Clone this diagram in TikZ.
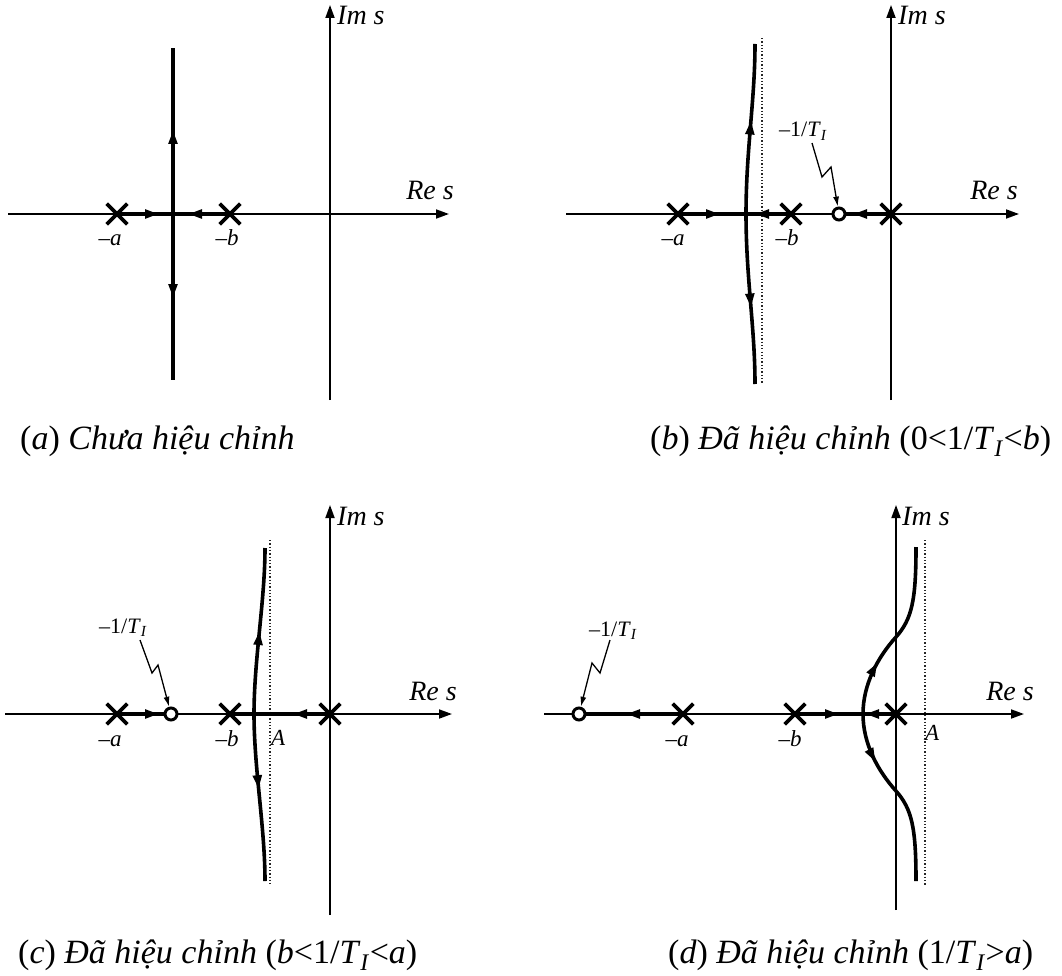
\documentclass[tikz,border=0pt]{standalone}
\usepackage{fontspec}
\setmainfont{Liberation Serif}
\usetikzlibrary{arrows.meta,decorations.markings,shapes.misc}

\tikzset{
  axisarrow/.style={line width=1.8pt, -{Triangle[length=13pt,width=9pt]}},
  locus/.style={line width=3.6pt},
  asym/.style={line width=1.3pt, dotted, black!85},
  polemark/.style={cross out, draw, line width=3.6pt, minimum size=17pt, inner sep=0pt},
  zeromark/.style={circle, draw, fill=white, line width=3pt, minimum size=12pt, inner sep=0pt},
  zig/.style={line width=1.3pt, -{Latex[length=10pt,width=6pt]}},
  am/.style={postaction={decorate, decoration={markings,
      mark=at position #1 with {\arrow{Triangle[length=14pt,width=8.5pt]}}}}},
  lbl/.style={font=\fontsize{23}{23}\selectfont\itshape, inner sep=0pt, anchor=base},
  axlbl/.style={font=\fontsize{28}{28}\selectfont\itshape, inner sep=0pt},
  tlbl/.style={font=\fontsize{22}{22}\selectfont, inner sep=0pt, anchor=base west},
  captext/.style={font=\fontsize{34}{34}\selectfont, inner sep=0pt, anchor=base west},
}
\newcommand{\TI}{\textit{T}\textsubscript{\textit{I}}}

\begin{document}
\begin{tikzpicture}[x=1pt,y=-1pt]
\useasboundingbox (0,0) rectangle (1062,976);

%% ---------------- (a) ----------------
\coordinate (axl) at (8,214);   \coordinate (axr) at (449,214);
\coordinate (ayb) at (330,400); \coordinate (ayt) at (330,5);
\draw[axisarrow] (axl) -- (axr);
\draw[axisarrow] (ayb) -- (ayt);
\node[polemark] (apa) at (117,214) {};
\node[polemark] (apb) at (230,214) {};
\coordinate (abrk) at (173,214);
\coordinate (atop) at (173,48);
\coordinate (abot) at (173,380);
\draw[locus, am=42pt] (apa.center) -- (abrk);
\draw[locus, am=42pt] (apb.center) -- (abrk);
\draw[locus, am=84pt] (abrk) -- (atop);
\draw[locus, am=84pt] (abrk) -- (abot);
\node[lbl] (ala) at (110,246) {–a};
\node[lbl] (alb) at (227,246) {–b};
\node[axlbl, anchor=base east] (are) at (454,200) {Re s};
\node[axlbl, anchor=base west] (aim) at (337,25) {Im s};
\node[captext] (acap) at (20,449) {(\textit{a}) \textit{Chưa hiệu chỉnh}};

%% ---------------- (b) ----------------
\coordinate (bxl) at (566,214);  \coordinate (bxr) at (1019,214);
\coordinate (byb) at (891,400);  \coordinate (byt) at (891,5);
\draw[axisarrow] (bxl) -- (bxr);
\draw[axisarrow] (byb) -- (byt);
\coordinate (bbrk) at (746,214);
\coordinate (bpac) at (678,214);
\coordinate (bpbc) at (791,214);
\coordinate (bzc) at (839,214);
\coordinate (boc) at (891,214);
\coordinate (btop) at (755,44);
\coordinate (bbot) at (755,384);
\coordinate (basT) at (762,38); \coordinate (basB) at (762,384);
\draw[asym] (basT) -- (basB);
\draw[locus, am=42pt] (bpac) -- (bbrk);
\draw[locus, am=36pt] (bpbc) -- (bbrk);
\draw[locus, am=38pt] (boc) -- (bzc);
\draw[locus, am=0.55] (bbrk) .. controls (746,150) and (755,100) .. (btop);
\draw[locus, am=0.55] (bbrk) .. controls (746,278) and (755,328) .. (bbot);
\node[polemark] (bpa) at (bpac) {};
\node[polemark] (bpb) at (bpbc) {};
\node[polemark] (bpo) at (boc) {};
\node[zeromark] (bz) at (bzc) {};
\coordinate (bz1) at (812,143); \coordinate (bz2) at (822,177); \coordinate (bz3) at (831,167);
\draw[zig] (bz1) -- (bz2) -- (bz3) -- (bz);
\node[tlbl] (bti) at (779,137) {–1/\TI};
\node[lbl] (bla) at (673,246) {–a};
\node[lbl] (blb) at (787,246) {–b};
\node[axlbl, anchor=base east] (bre) at (1018,200) {Re s};
\node[axlbl, anchor=base west] (bim) at (898,25) {Im s};
\node[captext] (bcap) at (650,449) {(\textit{b}) \textit{Đã hiệu chỉnh} (0<1/\TI<\textit{b})};

%% ---------------- (c) ----------------
\coordinate (cxl) at (5,714);   \coordinate (cxr) at (452,714);
\coordinate (cyb) at (330,915); \coordinate (cyt) at (330,505);
\draw[axisarrow] (cxl) -- (cxr);
\draw[axisarrow] (cyb) -- (cyt);
\coordinate (cbrk) at (254,714);
\coordinate (cpac) at (117,714);
\coordinate (czc) at (171,714);
\coordinate (cpbc) at (230,714);
\coordinate (coc) at (330,714);
\coordinate (ctop) at (265,548);
\coordinate (cbot) at (265,881);
\coordinate (casT) at (270,540); \coordinate (casB) at (270,884);
\draw[asym] (casT) -- (casB);
\draw[locus, am=42pt] (cpac) -- (czc);
\draw[locus, am=37pt] (coc) -- (cpbc);
\draw[locus, am=0.5] (cbrk) .. controls (254,660) and (265,600) .. (ctop);
\draw[locus, am=0.45] (cbrk) .. controls (254,768) and (265,828) .. (cbot);
\node[polemark] (cpa) at (cpac) {};
\node[polemark] (cpb) at (cpbc) {};
\node[polemark] (cpo) at (coc) {};
\node[zeromark] (cz) at (czc) {};
\coordinate (cz1) at (140,640); \coordinate (cz2) at (152,673); \coordinate (cz3) at (158,665);
\draw[zig] (cz1) -- (cz2) -- (cz3) -- (cz);
\node[tlbl] (cti) at (99,633) {–1/\TI};
\node[lbl] (cla) at (110,746) {–a};
\node[lbl] (clb) at (227,746) {–b};
\node[lbl, anchor=base west] (cA) at (271,745) {A};
\node[axlbl, anchor=base east] (cre) at (457,700) {Re s};
\node[axlbl, anchor=base west] (cim) at (337,525) {Im s};
\node[captext] (ccap) at (18,963) {(\textit{c}) \textit{Đã hiệu chỉnh} (\textit{b}<1/\TI<\textit{a})};

%% ---------------- (d) ----------------
\coordinate (dxl) at (544,714);  \coordinate (dxr) at (1024,714);
\coordinate (dyb) at (896,910);  \coordinate (dyt) at (896,505);
\draw[axisarrow] (dxl) -- (dxr);
\draw[axisarrow] (dyb) -- (dyt);
\coordinate (dbrk) at (863,714);
\coordinate (dzc) at (579,714);
\coordinate (dpac) at (683,714);
\coordinate (dpbc) at (795,714);
\coordinate (doc) at (896,714);
\coordinate (dtop) at (916,547);
\coordinate (dbot) at (916,881);
\coordinate (dasT) at (925,540); \coordinate (dasB) at (925,885);
\draw[asym] (dasT) -- (dasB);
\draw[locus, am=57pt] (dpac) -- (dzc);
\draw[locus, am=44pt] (dpbc) -- (dbrk);
\draw[locus, am=31pt] (doc) -- (dbrk);
\draw[locus, am=54pt] (dbrk) .. controls (863,684) and (878,657) .. (896,637)
      .. controls (912,619) and (916,600) .. (dtop);
\draw[locus, am=50pt] (dbrk) .. controls (863,744) and (878,771) .. (896,791)
      .. controls (912,809) and (916,828) .. (dbot);
\node[polemark] (dpa) at (dpac) {};
\node[polemark] (dpb) at (dpbc) {};
\node[polemark] (dpo) at (doc) {};
\node[zeromark] (dz) at (dzc) {};
\coordinate (dz1) at (610,640); \coordinate (dz2) at (600,673); \coordinate (dz3) at (592,663);
\draw[zig] (dz1) -- (dz2) -- (dz3) -- (dz);
\node[tlbl] (dti) at (589,636) {–1/\TI};
\node[lbl] (dla) at (677,746) {–a};
\node[lbl] (dlb) at (790,746) {–b};
\node[lbl, anchor=base west] (dA) at (925,740) {A};
\node[axlbl, anchor=base east] (dre) at (1034,700) {Re s};
\node[axlbl, anchor=base west] (dim) at (902,525) {Im s};
\node[captext] (dcap) at (668,963) {(\textit{d}) \textit{Đã hiệu chỉnh} (1/\TI>\textit{a})};
\end{tikzpicture}
\end{document}
